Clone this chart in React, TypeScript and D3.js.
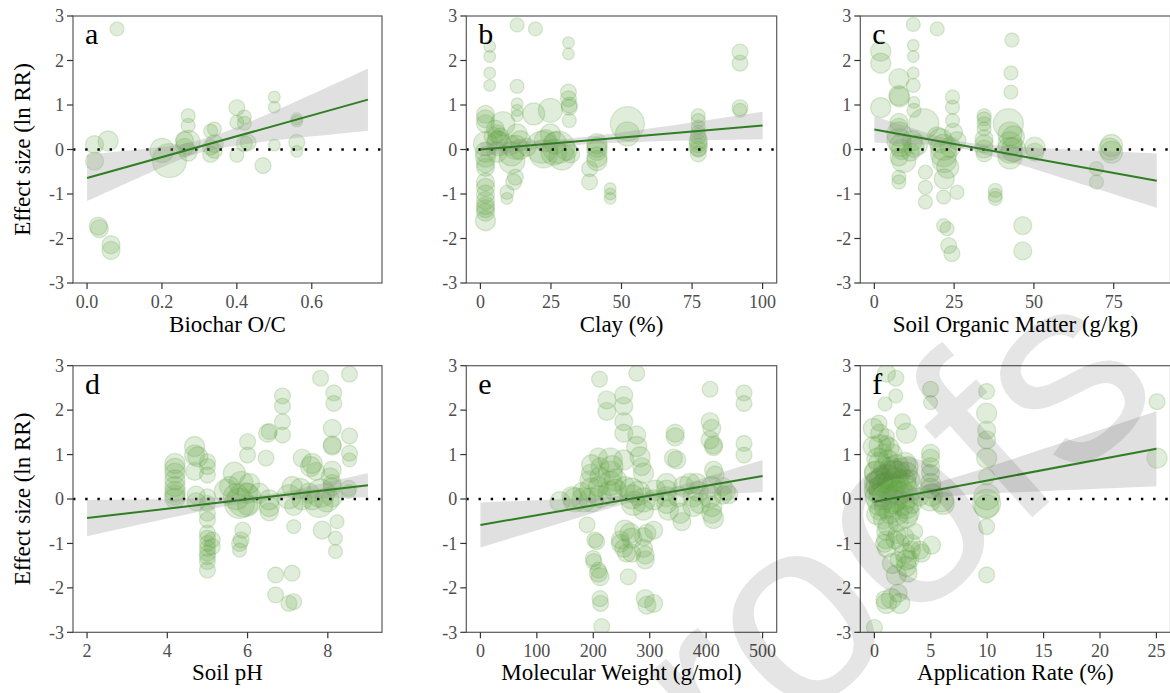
import React from 'react';
import * as d3 from 'd3';

// each point: [x, ln RR, weight]
type Pt = [number, number, number];

const ptsA: Pt[] = [
  [0.08, 2.71, 17], [0.02, 0.11, 28], [0.02, -0.26, 28], [0.056, 0.19, 35], [0.03, -1.72, 28], [0.033, -1.78, 28],
  [0.064, -2.14, 28], [0.064, -2.27, 28], [0.2, -0.02, 50], [0.22, -0.25, 100], [0.26, 0.2, 28], [0.26, 0.05, 28],
  [0.27, 0.76, 17], [0.27, 0.54, 17], [0.27, 0.16, 50], [0.27, -0.06, 28], [0.33, 0.41, 17], [0.34, 0.46, 17],
  [0.33, 0.05, 22], [0.33, -0.11, 22], [0.34, 0.13, 28], [0.34, -0.02, 22], [0.4, 0.94, 22], [0.4, 0.61, 17],
  [0.4, -0.13, 17], [0.42, 0.73, 17], [0.42, 0.59, 17], [0.42, 0.13, 22], [0.43, 0.16, 22], [0.47, -0.36, 22],
  [0.5, 1.18, 12], [0.5, 0.95, 12], [0.5, 0.1, 12], [0.56, 0.69, 12], [0.56, 0.64, 12], [0.56, 0.16, 22], [0.56, -0.04, 12],
];

const ptsB: Pt[] = [
  [1.8, 0.79, 28], [1.8, 0.69, 28], [1.8, 0.58, 28], [1.8, 0.13, 50], [1.8, -0.06, 35], [1.8, -0.17, 35], [1.8, -0.32, 28],
  [1.8, -0.4, 28], [1.8, -0.73, 28], [1.8, -0.85, 28], [1.8, -1.0, 28], [1.8, -1.15, 28], [1.8, -1.26, 28], [1.8, -1.33, 28],
  [1.8, -1.41, 28], [1.8, -1.6, 35], [3.3, 2.32, 12], [3.3, 2.09, 12], [3.3, 1.72, 12], [3.3, 1.44, 12],
  [5.3, 0.46, 28], [5.9, 0.35, 28], [7.0, 0.28, 28], [6.5, 0.13, 50], [5.9, -0.06, 35], [8.0, 0.58, 50], [6, 0.2, 35], [4.5, 0.3, 28],
  [9.4, -0.96, 17], [9.4, -1.1, 12], [13, 2.8, 17], [13, 1.42, 17], [13, 1.03, 12], [13, 0.88, 12], [13, 0.76, 12],
  [12.4, -0.62, 22], [11.8, -0.73, 22], [11.2, -0.25, 58], [12.4, 0.05, 50], [13, 0.35, 35], [14.2, 0.2, 35], [11, -0.1, 50],
  [10.5, 0.1, 35], [14, 0.0, 35], [16.5, 0.05, 28], [18.9, 0.8, 42], [19.5, 2.71, 17],
  [21.8, 0.05, 89], [22.4, -0.1, 68], [24.8, 0.88, 50], [24.8, 0.35, 35], [26, -0.06, 58], [27.7, 0.05, 89], [28.9, -0.17, 58],
  [30.6, -0.02, 35], [23, 0.2, 42], [26.5, 0.15, 42],
  [31.2, 2.4, 12], [31.2, 2.15, 12], [31.2, 1.29, 22], [31.2, 1.14, 22], [31.5, 0.95, 22], [31.5, 0.65, 17], [32, -0.1, 28], [31.5, 1.0, 22],
  [38.7, -0.43, 22], [38.7, -0.73, 22], [41.3, 0.13, 35], [41.3, -0.02, 35], [41.3, -0.17, 35], [41.3, -0.25, 35], [41.3, 0.05, 35],
  [46, -0.88, 12], [46, -1.0, 12], [46, -1.1, 12], [52.1, 0.58, 100], [52.1, 0.35, 50],
  [77.2, 0.76, 17], [77.2, 0.65, 17], [77.2, 0.5, 17], [77.2, 0.39, 17], [77.2, 0.2, 28], [77.2, 0.13, 28], [77.2, 0.01, 22],
  [77.2, -0.1, 22], [77.2, 0.3, 22], [77.2, 0.05, 28], [92, 2.19, 22], [92, 1.94, 22], [92, 0.94, 22], [92, 0.88, 17],
];

const ptsC: Pt[] = [
  [2, 2.21, 35], [2, 1.94, 35], [2, 0.94, 35], [7.7, 1.59, 35], [7.7, 1.21, 35], [7.9, 1.18, 35], [7.7, 0.61, 28], [7.7, 0.5, 28],
  [7.7, 0.35, 50], [7.7, 0.2, 50], [8.2, 0.09, 42], [7.7, -0.17, 28], [7.7, -0.62, 17], [7.7, -0.73, 17], [9.2, -0.25, 50], [8.5, 0.0, 35],
  [12.2, 2.81, 17], [12.2, 2.34, 12], [12.2, 2.09, 12], [12.2, 1.72, 12], [12.2, 1.44, 17], [12.4, 1.06, 12], [12.4, 0.88, 17],
  [11.9, 0.2, 35], [12.4, 0.05, 35], [11.3, -0.06, 28], [13.5, 0.1, 35], [15.5, 0.58, 78], [16, -0.51, 17], [16, -0.85, 17], [16, -1.18, 17],
  [19.7, 2.71, 17], [19.7, 0.28, 35], [20.7, 0.2, 50], [21.7, 0.05, 58], [21.7, -0.1, 58], [21.9, -0.25, 50], [21.9, -0.66, 35],
  [21.7, -1.07, 17], [21.7, -1.71, 17], [22.8, -1.78, 17], [23.3, -2.16, 22], [24.3, -2.34, 22], [23.8, 0.05, 35], [23, -0.4, 42],
  [24.5, 1.18, 17], [24.5, 0.95, 17], [24.5, 0.65, 17], [24.8, 0.39, 28], [25.9, 0.2, 28], [25.9, -0.96, 17],
  [34.4, 0.76, 17], [34.4, 0.69, 17], [34.4, 0.58, 17], [34.4, 0.46, 17], [34.4, 0.24, 28], [34.4, 0.13, 28], [34.4, 0.01, 28], [34.4, -0.1, 22],
  [37.9, -0.92, 17], [37.9, -1.03, 17], [37.9, -1.1, 17], [43.1, 2.46, 17], [42.8, 1.72, 17], [42.8, 1.29, 17], [42.0, 0.58, 78],
  [42.5, 0.35, 50], [42.5, 0.13, 50], [42.5, -0.02, 58], [42.5, -0.17, 50], [43.6, 0.28, 42], [43.6, 0.0, 50],
  [46.5, -1.71, 28], [46.5, -2.28, 28], [50.3, 0.05, 35], [50.3, -0.06, 28], [69.6, -0.43, 17], [69.6, -0.73, 17],
  [74.3, 0.09, 42], [74.3, -0.06, 42], [73.8, 0.01, 42],
];

const ptsD: Pt[] = [
  [4.19, 0.8, 35], [4.19, 0.69, 35], [4.19, 0.58, 35], [4.19, 0.43, 35], [4.19, 0.28, 35], [4.19, 0.17, 35], [4.19, 0.09, 35], [4.19, 0.02, 35],
  [4.68, 1.18, 35], [4.68, 0.99, 35], [4.76, 0.95, 35], [4.68, 0.62, 28], [4.72, 0.09, 28], [4.72, -0.06, 28],
  [5.0, 0.84, 22], [5.0, 0.73, 22], [5.0, 0.54, 22], [5.0, 0.05, 22], [5.0, -0.1, 22], [5.0, -0.32, 22], [5.0, -0.47, 22],
  [5.0, -0.77, 22], [5.0, -0.88, 22], [5.0, -1.0, 22], [5.0, -1.11, 22], [5.0, -1.22, 22], [5.0, -1.3, 22], [5.0, -1.41, 22],
  [5.0, -1.6, 22], [5.12, -0.92, 22], [5.12, -1.07, 22],
  [5.47, 0.17, 50], [5.55, 0.28, 35], [5.67, 0.58, 42], [5.72, 0.05, 58], [5.8, -0.1, 78], [5.84, 0.35, 50], [5.92, -0.02, 100],
  [5.8, -1.0, 22], [5.84, -0.92, 22], [5.8, -1.15, 17], [5.88, -0.7, 22], [6.0, 1.29, 22], [6.0, 0.99, 22], [6.0, 0.13, 35],
  [6.0, -0.14, 35], [6.05, 0.35, 35], [6.29, 0.13, 35], [6.46, 0.92, 22], [6.5, 1.48, 28], [6.54, 1.52, 22], [6.54, -0.02, 35],
  [6.54, -0.17, 35], [6.54, -0.29, 28], [6.87, 2.32, 22], [6.87, 2.09, 22], [6.87, 1.74, 22], [6.87, 1.44, 22],
  [6.7, -1.71, 22], [6.7, -2.16, 22], [7.03, -2.35, 22], [7.15, -2.31, 22], [7.11, -1.67, 22], [7.03, 0.05, 50], [7.11, 0.28, 35],
  [7.15, -0.62, 17], [7.15, -0.17, 28], [7.32, 0.24, 35], [7.36, -0.02, 35], [7.36, 0.92, 28], [7.57, 0.73, 35], [7.61, 0.8, 35],
  [7.61, -0.02, 35], [7.53, 0.13, 35], [7.82, 2.72, 22], [7.82, 0.13, 68], [7.78, -0.1, 68], [7.86, -0.7, 28], [7.7, 0.62, 28],
  [8.15, 2.39, 22], [8.15, 2.15, 22], [8.11, 1.59, 28], [8.11, 1.22, 28], [8.11, 1.19, 28], [8.11, 0.65, 28], [8.06, 0.5, 28],
  [8.11, 0.35, 28], [8.11, 0.28, 28], [8.11, 0.05, 35], [8.23, -0.51, 17], [8.19, -0.88, 17], [8.19, -1.18, 17], [7.98, -0.02, 50],
  [8.54, 2.81, 22], [8.54, 1.42, 22], [8.54, 1.03, 22], [8.54, 0.88, 17], [8.52, 0.24, 22], [8.52, 0.17, 17],
];

const ptsE: Pt[] = [
  [141, -0.06, 35], [162, 0.05, 35], [168, -0.02, 50], [180, 0.17, 28], [183, -0.02, 50], [189, -0.58, 22], [192, 0.43, 28],
  [195, 0.58, 28], [197, 0.77, 35], [197, 0.2, 50], [197, -0.02, 50], [200, -1.34, 22], [201, -1.41, 22], [203, -0.92, 22],
  [206, -0.96, 22], [209, -1.6, 22], [209, -1.67, 28], [212, -1.75, 28], [211, 2.7, 22], [212, -2.24, 22], [213, -2.35, 22],
  [215, -2.87, 22], [209, 0.95, 28], [212, 0.73, 28], [212, 0.5, 35], [209, 0.28, 35], [212, 0.05, 42], [224, 2.23, 28],
  [224, 1.97, 28], [230, 0.88, 50], [230, 0.58, 50], [230, 0.35, 50], [230, 0.13, 50], [233, 0.73, 42], [239, 0.43, 42],
  [239, 0.2, 42], [254, 2.34, 28], [254, 2.09, 28], [254, 1.74, 28], [254, 1.48, 28], [254, 0.88, 35], [256, 0.28, 35],
  [248, -0.92, 28], [248, -1.0, 28], [254, -1.11, 28], [259, -1.22, 28], [256, -0.7, 35], [262, -1.75, 22], [265, -0.77, 35],
  [268, -0.88, 35], [268, -1.22, 28], [268, 0.2, 50], [268, 0.05, 50], [271, -0.1, 50], [277, 2.83, 22], [277, 1.44, 28],
  [277, 1.18, 35], [283, 0.95, 35], [286, 0.73, 28], [289, 0.58, 35], [280, 0.13, 50], [289, -0.02, 50], [289, -0.25, 35],
  [289, -1.11, 28], [292, -1.26, 28], [292, -1.37, 28], [292, -2.24, 28], [295, -2.39, 28], [295, -0.77, 28], [289, -0.85, 28],
  [307, -2.35, 28], [307, -0.7, 28], [310, 0.2, 35], [307, -0.02, 35], [330, 0.35, 35], [330, 0.2, 35], [330, 0.05, 35],
  [330, -0.1, 35], [333, -0.25, 35], [345, 1.48, 28], [345, 1.4, 28], [342, 0.92, 28], [348, 0.88, 28], [354, -0.32, 35],
  [357, -0.51, 28], [351, 0.05, 35], [360, 0.28, 35], [371, 0.35, 35], [377, 0.05, 35], [377, -0.17, 35], [383, 0.35, 35],
  [386, 0.17, 35], [389, -0.1, 35], [407, 2.47, 22], [407, 1.74, 28], [410, 1.59, 28], [407, 1.33, 28], [413, 1.22, 28],
  [413, 1.18, 28], [413, 0.65, 28], [416, 0.54, 28], [410, 0.28, 35], [407, 0.05, 42], [410, -0.17, 35], [410, -0.32, 35],
  [413, -0.44, 35], [430, 0.28, 28], [430, 0.09, 28], [436, 0.17, 28], [440, 0.1, 28], [467, 2.39, 22], [467, 2.15, 22],
  [467, 1.25, 22], [467, 0.99, 22],
];

const ptsF: Pt[] = [
  [0.0, -2.89, 22], [-0.1, 1.59, 35], [-0.1, 1.18, 35], [0.18, 0.58, 50], [0.18, 0.35, 50], [0.18, 0.2, 50], [0.33, 0.05, 58],
  [0.47, -0.1, 50], [0.47, -0.25, 35], [0.47, 0.8, 42], [0.62, 0.43, 50], [0.77, 0.24, 68], [0.92, 0.05, 58], [1.07, -0.17, 50],
  [0.92, 0.69, 42], [1.22, 0.88, 35], [1.36, 0.35, 50], [1.51, 0.17, 50], [1.66, -0.06, 50], [1.81, 0.58, 50],
  [0.41, 1.71, 22], [0.47, 1.48, 28], [1.07, 2.83, 28], [0.95, 2.14, 17], [1.07, 1.4, 22], [1.07, 1.25, 22], [0.77, 1.03, 28],
  [1.0, -0.73, 28], [1.0, -0.92, 28], [1.07, -1.11, 28], [0.92, -2.27, 28], [1.07, -2.35, 35], [1.51, -2.24, 35], [1.81, -0.92, 28],
  [2.1, -1.37, 22], [1.9, 2.72, 22], [1.9, 2.32, 17], [1.66, 1.03, 28], [1.96, 0.73, 50], [1.96, 0.43, 50], [2.1, 0.13, 50],
  [1.96, -0.32, 50], [2.1, -0.51, 35], [1.95, -1.71, 35], [2.1, -2.12, 28], [2.25, -2.35, 35],
  [2.49, 1.74, 22], [2.84, 1.48, 35], [2.7, 0.8, 42], [2.84, 0.58, 42], [2.7, 0.28, 50], [2.84, 0.05, 50], [2.84, -0.17, 50],
  [2.84, -0.4, 42], [2.7, -0.85, 28], [2.7, -1.22, 35], [2.84, -1.37, 35], [2.84, -1.52, 35], [2.99, -1.67, 28],
  [2.99, 0.73, 35], [3.14, 0.43, 35], [3.2, 0.17, 35], [3.29, -0.1, 35], [3.29, -1.0, 28], [3.29, -1.15, 28], [3.14, -1.37, 28],
  [3.58, -0.73, 22], [4.03, -1.15, 28], [4.18, -1.22, 28], [4.03, 0.05, 28],
  [0.3, 0.9, 42], [0.6, 0.1, 50], [1.2, 0.5, 50], [1.4, -0.3, 42], [0.2, -0.35, 35], [1.7, 0.3, 50], [2.3, 0.2, 50],
  [2.5, -0.1, 50], [2.2, 0.6, 42], [0.8, -0.45, 35], [1.2, -0.6, 35], [2.0, -0.8, 28], [1.6, -1.45, 35], [2.3, -1.0, 28],
  [0.5, 1.2, 42], [1.3, 1.15, 35], [0.9, -1.0, 28], [0.4, 0.35, 58], [1.0, 0.3, 58], [1.8, 0.0, 58], [2.6, 0.4, 50],
  [3.0, -0.3, 42], [0.1, 0.6, 42], [1.5, 0.7, 42],
  [4.98, 2.47, 22], [4.98, 2.17, 17], [4.98, 1.03, 28], [4.98, 0.92, 28], [4.98, 0.73, 28], [4.98, 0.58, 28], [4.98, 0.35, 35],
  [4.98, 0.24, 35], [5.07, 0.09, 42], [4.92, -0.02, 42], [5.07, -1.04, 28], [5.95, -0.02, 50], [6.1, -0.1, 42],
  [9.95, 2.42, 22], [9.95, 1.93, 35], [9.95, 1.55, 28], [9.95, 1.33, 28], [9.95, 0.92, 35], [9.95, 0.5, 22], [9.95, 0.05, 58],
  [9.95, -0.1, 68], [9.95, -0.17, 50], [9.95, -0.62, 22], [9.95, -1.71, 22], [25.06, 2.19, 22], [25.06, 0.92, 35],
];

// fitted line ends [x, y] and confidence band samples [x, lower, upper]
const fitA = [[0, -0.64], [0.75, 1.12]];
const bandA = [[0, -1.16, -0.12], [0.19, -0.44, 0.05], [0.32, -0.04, 0.26], [0.5, 0.2, 0.86], [0.75, 0.42, 1.82]];
const fitB = [[0, 0.0], [100, 0.54]];
const bandB = [[0, -0.16, 0.16], [15, -0.03, 0.19], [32, 0.09, 0.25], [60, 0.18, 0.47], [100, 0.23, 0.85]];
const fitC = [[0, 0.45], [88.5, -0.7]];
const bandC = [[0, 0.16, 0.74], [14, 0.11, 0.43], [28, 0.01, 0.17], [55, -0.55, 0.02], [88.5, -1.31, -0.09]];
const fitD = [[2, -0.43], [9, 0.31]];
const bandD = [[2, -0.84, -0.02], [4, -0.44, 0.0], [6.25, -0.04, 0.08], [7.6, 0.02, 0.3], [9, 0.04, 0.58]];
const fitE = [[0, -0.585], [500, 0.52]];
const bandE = [[0, -1.09, -0.08], [150, -0.51, 0.0], [295, 0.0, 0.14], [400, 0.11, 0.49], [500, 0.16, 0.88]];
const fitF = [[0, -0.06], [25, 1.13]];
const bandF = [[0, -0.215, 0.095], [2.6, -0.056, 0.184], [8, 0.09, 0.55], [15, 0.175, 1.13], [25, 0.285, 1.975]];

const panelLetters = ['a', 'b', 'c', 'd', 'e', 'f'];
const xTitles = ['Biochar O/C', 'Clay (%)', 'Soil Organic Matter (g/kg)', 'Soil pH', 'Molecular Weight (g/mol)', 'Application Rate (%)'];
const xDomains = [[-0.0375, 0.7875], [-5, 105], [-4.4, 92.8], [1.65, 9.35], [-25, 525], [-1.25, 26.25]];
const xTicks = [[0, 0.2, 0.4, 0.6], [0, 25, 50, 75, 100], [0, 25, 50, 75], [2, 4, 6, 8], [0, 100, 200, 300, 400, 500], [0, 5, 10, 15, 20, 25]];
const yTicks = [-3, -2, -1, 0, 1, 2, 3];
const yTitle = 'Effect size (ln RR)';
const watermark = 'Pre-proofs';

const allPts = [ptsA, ptsB, ptsC, ptsD, ptsE, ptsF];
const allFits = [fitA, fitB, fitC, fitD, fitE, fitF];
const allBands = [bandA, bandB, bandC, bandD, bandE, bandF];

const W = 1170;
const H = 693;
const colRanges = [[73, 382], [466.3, 776.7], [860.3, 1170.5]];
const rowRanges = [[283, 16], [632.3, 365.7]];
const titleOffset = [49, 48];

const serif = '"Liberation Serif", "Times New Roman", serif';
const green = '#62a548';
const lineGreen = '#2f7f22';

const rScale = d3.scaleSqrt().domain([0, 100]).range([0, 17]);

function Panel({ i }: { i: number }) {
  const col = i % 3;
  const row = Math.floor(i / 3);
  const [left, right] = colRanges[col];
  const [bottom, top] = rowRanges[row];
  const x = d3.scaleLinear().domain(xDomains[i]).range([left, right]);
  const y = d3.scaleLinear().domain([-3, 3]).range([bottom, top]);
  const fmt = i === 0 ? d3.format('.1f') : d3.format('d');
  const area = d3.area<number[]>()
    .x(d => x(d[0]))
    .y0(d => y(d[1]))
    .y1(d => y(d[2]))
    .curve(d3.curveNatural);
  const line = d3.line<number[]>().x(d => x(d[0])).y(d => y(d[1]));
  const clipId = `clip-${i}`;
  const cx = (left + right) / 2;

  return (
    <g>
      <defs>
        <clipPath id={clipId}>
          <rect x={left} y={top} width={right - left} height={bottom - top} />
        </clipPath>
      </defs>
      <g clipPath={`url(#${clipId})`}>
        {allPts[i].map((p, k) => (
          <circle key={k} cx={x(p[0])} cy={y(p[1])} r={rScale(p[2])}
            fill={green} fillOpacity={0.2} stroke={green} strokeOpacity={0.22} strokeWidth={1.3} />
        ))}
        <line x1={left} x2={right} y1={y(0)} y2={y(0)} stroke="#000" strokeWidth={2.4} strokeDasharray="2.4 9.8" />
        <path d={area(allBands[i]) || ''} fill="#999" fillOpacity={0.3} />
        <path d={line(allFits[i]) || ''} fill="none" stroke={lineGreen} strokeWidth={2} />
      </g>
      <rect x={left} y={top} width={right - left} height={bottom - top} fill="none" stroke="#5a5a5a" strokeWidth={1.2} />
      {yTicks.map(t => (
        <g key={t}>
          <line x1={left - 6} x2={left} y1={y(t)} y2={y(t)} stroke="#333" strokeWidth={1.2} />
          <text x={left - 9} y={y(t)} dy="0.35em" textAnchor="end" fontSize={18} fill="#4d4d4d" fontFamily={serif}>{t}</text>
        </g>
      ))}
      {xTicks[i].map(t => (
        <g key={t}>
          <line x1={x(t)} x2={x(t)} y1={bottom} y2={bottom + 6} stroke="#333" strokeWidth={1.2} />
          <text x={x(t)} y={bottom + 25} textAnchor="middle" fontSize={18} fill="#4d4d4d" fontFamily={serif}>{fmt(t)}</text>
        </g>
      ))}
      <text x={cx} y={bottom + titleOffset[row]} textAnchor="middle" fontSize={23} fill="#000" fontFamily={serif}>{xTitles[i]}</text>
      <text x={left + 12} y={top + 28} fontSize={30} fill="#000" fontFamily={serif}>{panelLetters[i]}</text>
      {col === 0 && (
        <text transform={`translate(30,${(top + bottom) / 2}) rotate(-90)`} textAnchor="middle" fontSize={23} fill="#000" fontFamily={serif}>{yTitle}</text>
      )}
    </g>
  );
}

export default function App() {
  return (
    <svg width={W} height={H} style={{ position: 'absolute', left: 0, top: 0, background: '#fff' }}>
      <rect x={0} y={0} width={W} height={H} fill="#fff" />
      {panelLetters.map((_, i) => <Panel key={i} i={i} />)}
      <clipPath id="wm-clip"><rect x={0} y={0} width={W} height={H} /></clipPath>
      <g clipPath="url(#wm-clip)">
        <text transform="translate(1168,395) rotate(-42)" textAnchor="end" fontSize={265}
          fontFamily='"Liberation Sans", Arial, sans-serif' fill="#000" fillOpacity={0.1}>{watermark}</text>
      </g>
    </svg>
  );
}
